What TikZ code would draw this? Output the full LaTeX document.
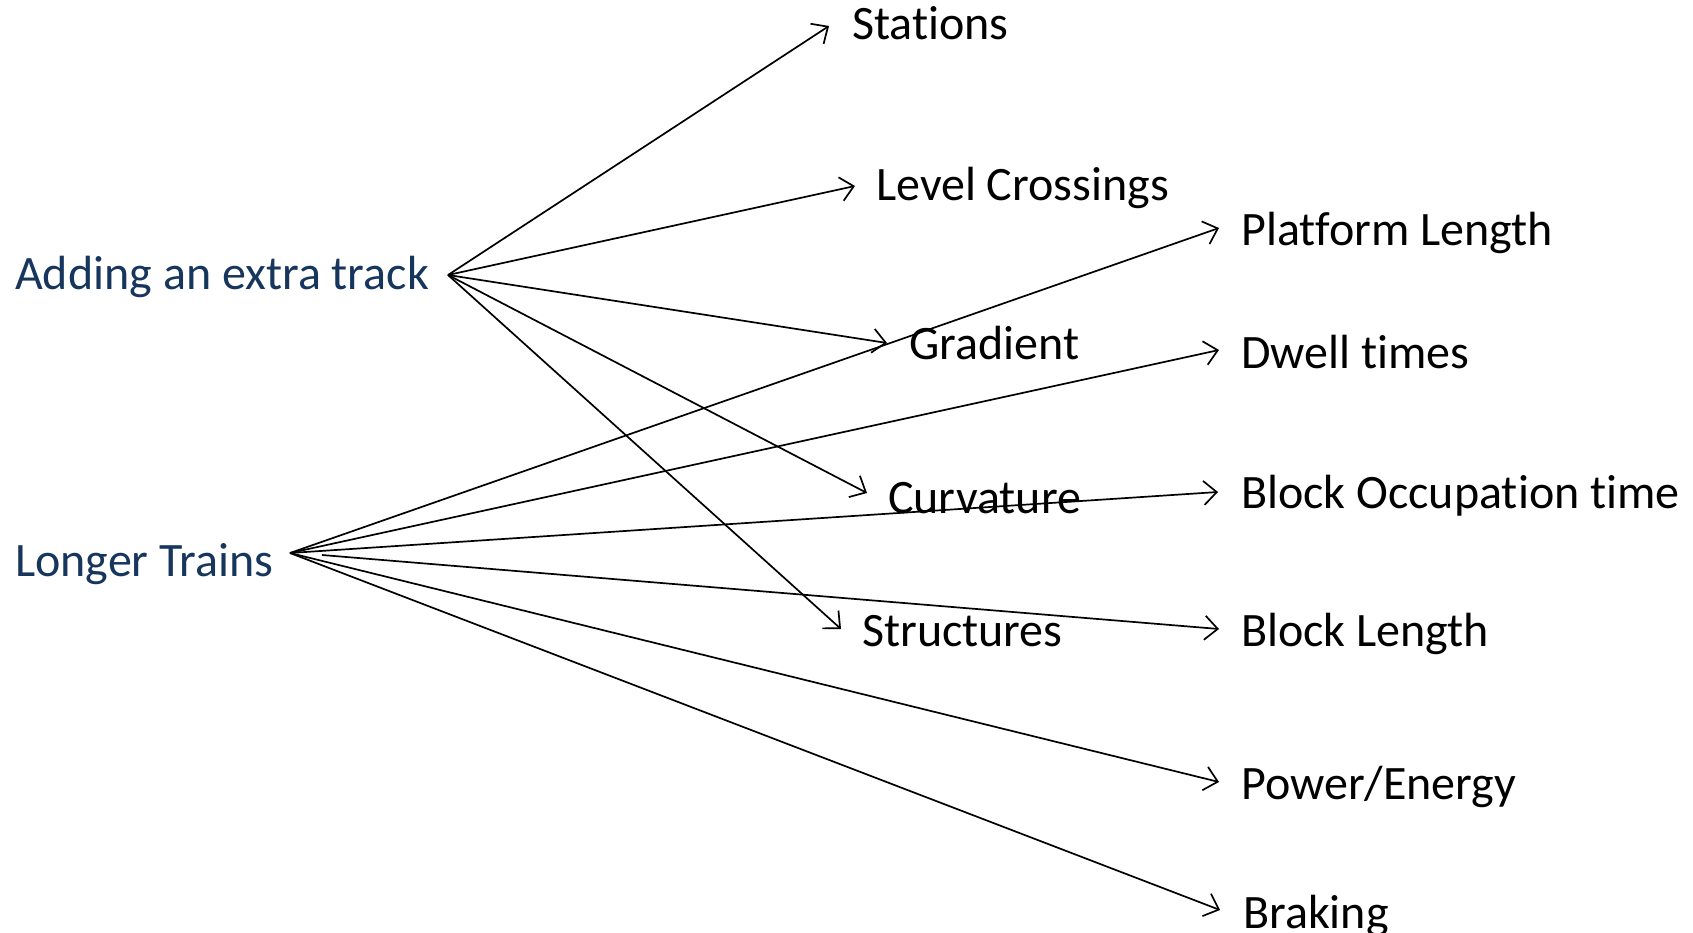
\documentclass[tikz,border=0pt]{standalone}
\usepackage{fontspec}
\setmainfont{Carlito}[Ligatures=NoCommon]
\usetikzlibrary{arrows.meta}
\definecolor{navy}{RGB}{23,54,93}
\begin{document}
\begin{tikzpicture}[x=1pt,y=-1pt,
  lbl/.style={anchor=base west,inner sep=0pt,font=\fontsize{48}{57}\selectfont},
  cause/.style={lbl,text=navy},
  effect/.style={lbl,text=black},
  link/.style={line width=1.7pt,-{Straight Barb[length=13pt,width=24pt,line width=1.7pt]}}]
\useasboundingbox (0,0) rectangle (1693,933);

% causes
\node[cause] (add) at (15,289) {Adding an extra track};
\node[cause] (longer) at (15,576) {Longer Trains};
\coordinate (srcA) at (448,275);
\coordinate (srcB) at (290,553);
\coordinate (srcB2) at (322,555);

% effects of an extra track
\node[effect] (stations) at (852,40) {Stations};
\node[effect] (level) at (876,201) {Level Crossings};
\node[effect] (gradient) at (909,359) {Gradient};
\node[effect] (curvature) at (888,513) {Curvature};
\node[effect] (structures) at (862,646) {Structures};

% effects of longer trains
\node[effect] (platform) at (1241,246) {Platform Length};
\node[effect] (dwell) at (1241,368) {Dwell times};
\node[effect] (blockocc) at (1241,508) {Block Occupation time};
\node[effect] (blocklen) at (1241,646) {Block Length};
\node[effect] (power) at (1241,799) {Power/Energy};
\node[effect] (braking) at (1243,928) {Braking};

% arrow tips
\coordinate (tStations) at (829,26);
\coordinate (tLevel) at (855,186);
\coordinate (tGradient) at (887,343);
\coordinate (tCurvature) at (867,493);
\coordinate (tStructures) at (841,629);
\coordinate (tPlatform) at (1219,228);
\coordinate (tDwell) at (1219,350);
\coordinate (tBlockOcc) at (1218,492);
\coordinate (tBlockLen) at (1219,629);
\coordinate (tPower) at (1219,782);
\coordinate (tBraking) at (1220,910);

\draw[link] (srcA) -- (tStations);
\draw[link] (srcA) -- (tLevel);
\draw[link] (srcA) -- (tGradient);
\draw[link] (srcA) -- (tCurvature);
\draw[link] (srcA) -- (tStructures);

\draw[link] (srcB) -- (tPlatform);
\draw[link] (srcB) -- (tDwell);
\draw[link] (srcB) -- (tBlockOcc);
\draw[link] (srcB2) -- (tBlockLen);
\draw[link] (srcB) -- (tPower);
\draw[link] (srcB) -- (tBraking);
\end{tikzpicture}
\end{document}
